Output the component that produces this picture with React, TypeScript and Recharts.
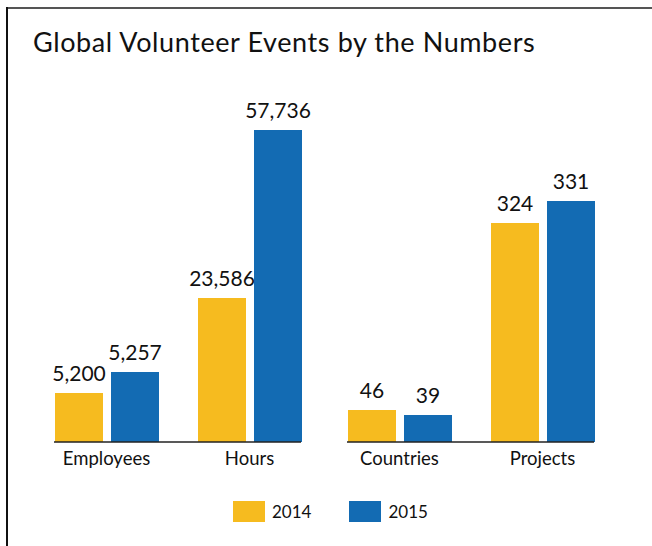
import React from "react";
import { BarChart, Bar, XAxis, YAxis, LabelList } from "recharts";

// categories split across the two panels
const leftCategories = ["Employees", "Hours"];
const rightCategories = ["Countries", "Projects"];

// values printed on the bars
const left2014 = [5200, 23586];
const left2015 = [5257, 57736];
const right2014 = [46, 324];
const right2015 = [39, 331];

// the bars are not drawn to a common scale in the source graphic,
// so these are the bar lengths (same units for all)
const leftLen2014 = [49, 144];
const leftLen2015 = [70, 312];
const rightLen2014 = [32, 219];
const rightLen2015 = [27, 241];

const seriesNames = ["2014", "2015"];
const YELLOW = "#F6BB1F";
const BLUE = "#136BB3";
const FONT = "Lato, 'Noto Sans', sans-serif";

const fmt = (v: number) => v.toLocaleString("en-US");

const buildRows = (
  cats: string[],
  v14: number[],
  v15: number[],
  l14: number[],
  l15: number[]
) =>
  cats.map((c, i) => ({
    name: c,
    v2014: v14[i],
    v2015: v15[i],
    len2014: l14[i],
    len2015: l15[i],
  }));

const leftRows = buildRows(leftCategories, left2014, left2015, leftLen2014, leftLen2015);
const rightRows = buildRows(rightCategories, right2014, right2015, rightLen2014, rightLen2015);

const Panel: React.FC<{ rows: any[]; marginLeft: number }> = ({ rows, marginLeft }) => (
  <BarChart
    width={326}
    height={480}
    data={rows}
    margin={{ top: 130, right: 326 - marginLeft - 247, left: marginLeft, bottom: 8 }}
    barSize={48}
    barGap={8}
  >
    <XAxis
      dataKey="name"
      height={30}
      padding={{ left: -19, right: -20 }}
      tickLine={false}
      tickMargin={4}
      axisLine={{ stroke: "#222", strokeWidth: 1.5 }}
      tick={{ fill: "#111", fontSize: 18.5, fontFamily: FONT }}
      interval={0}
    />
    <YAxis hide domain={[0, 312]} />
    <Bar dataKey="len2014" fill={YELLOW} isAnimationActive={false}>
      <LabelList
        dataKey="v2014"
        position="top"
        offset={12}
        formatter={(v: any) => fmt(Number(v))}
        style={{ fill: "#111", fontSize: 21, fontFamily: FONT }}
      />
    </Bar>
    <Bar dataKey="len2015" fill={BLUE} isAnimationActive={false}>
      <LabelList
        dataKey="v2015"
        position="top"
        offset={12}
        formatter={(v: any) => fmt(Number(v))}
        style={{ fill: "#111", fontSize: 21, fontFamily: FONT }}
      />
    </Bar>
  </BarChart>
);

export default function App() {
  return (
    <div
      style={{
        position: "absolute",
        left: 0,
        top: 0,
        width: 652,
        height: 546,
        background: "#fff",
        fontFamily: FONT,
        overflow: "hidden",
      }}
    >
      {/* frame */}
      <div style={{ position: "absolute", left: 6, top: 7, width: 646, height: 2, background: "#555" }} />
      <div style={{ position: "absolute", left: 6, top: 7, width: 2, height: 539, background: "#111" }} />

      <div
        style={{
          position: "absolute",
          left: 33,
          top: 28,
          fontSize: 27,
          letterSpacing: 0.6,
          lineHeight: "27px",
          color: "#111",
          whiteSpace: "nowrap",
        }}
      >
        Global Volunteer Events by the Numbers
      </div>

      <div style={{ position: "absolute", left: 0, top: 0 }}>
        <Panel rows={leftRows} marginLeft={54} />
      </div>
      <div style={{ position: "absolute", left: 326, top: 0 }}>
        <Panel rows={rightRows} marginLeft={21} />
      </div>

      {/* legend */}
      <div
        style={{
          position: "absolute",
          left: 233,
          top: 501,
          display: "flex",
          alignItems: "center",
          fontSize: 17,
          color: "#111",
        }}
      >
        {seriesNames.map((s, i) => (
          <div key={s} style={{ display: "flex", alignItems: "center", marginRight: i === 0 ? 38 : 0 }}>
            <div style={{ width: 32, height: 21, background: i === 0 ? YELLOW : BLUE, marginRight: 7 }} />
            <span>{s}</span>
          </div>
        ))}
      </div>
    </div>
  );
}
